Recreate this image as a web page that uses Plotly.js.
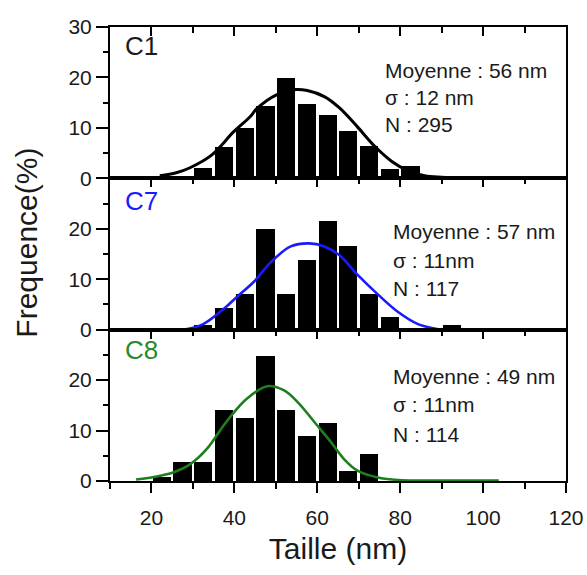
<!DOCTYPE html>
<html>
<head>
<meta charset="utf-8">
<script src="https://cdn.plot.ly/plotly-3.0.1.min.js"></script>
<style>html,body{margin:0;padding:0;background:#fff;}#chart{width:587px;height:575px;}</style>
</head>
<body>
<div id="chart"></div>
<script>
// ---- data ----
const c1BinCenters = [32.5, 37.5, 42.5, 47.5, 52.5, 57.5, 62.5, 67.5, 72.5, 77.5, 82.5];
const c1Freq       = [2.0, 6.2, 9.9, 14.3, 19.8, 14.8, 12.6, 9.3, 6.5, 1.8, 2.4];
const c1FitX = [22, 26, 29.3, 34.5, 39.8, 43.8, 45.4, 50.3, 54.8, 57.6, 61.7, 65.3, 69.8, 73.8, 77.9, 81.9, 85.9, 90, 96, 104];
const c1FitY = [0.5, 1.1, 2.1, 4.6, 9.2, 12.2, 13.8, 16.6, 17.6, 17.4, 16.2, 14.0, 10.1, 6.4, 3.4, 1.5, 0.5, 0.2, 0.05, 0];

const c7BinCenters = [32.5, 37.5, 42.5, 47.5, 52.5, 57.5, 62.5, 67.5, 72.5, 77.5, 92.5];
const c7Freq       = [0.9, 4.3, 7.0, 19.9, 7.0, 13.8, 21.6, 16.5, 7.0, 2.5, 0.9];
const c7FitX = [27.7, 32.5, 37.4, 40.6, 44.7, 48.7, 53.6, 58, 61.7, 65.3, 69.8, 74.6, 79.5, 84.3, 89.2];
const c7FitY = [0, 1.1, 4.1, 6.5, 9.5, 13.3, 16.5, 17.1, 16.5, 14.8, 10.8, 7.0, 3.5, 1.1, 0.1];

const c8BinCenters = [22.5, 27.5, 32.5, 37.5, 42.5, 47.5, 52.5, 57.5, 62.5, 67.5, 72.5];
const c8Freq       = [0.8, 3.7, 3.7, 14.1, 12.5, 24.7, 14.1, 8.9, 11.5, 1.9, 5.3];
const c8FitX = [16.3, 21.2, 25.2, 29.3, 33.3, 37.4, 39.8, 43, 47.9, 51.9, 55.2, 60, 63.3, 66.5, 69.8, 74.6, 79.5, 90, 103.8];
const c8FitY = [0.3, 0.9, 1.7, 3.3, 6.3, 11, 13.5, 16.3, 18.8, 18, 15.7, 11, 7.7, 4.3, 2.0, 0.7, 0.2, 0.1, 0.1];

const panelNames = ['C1', 'C7', 'C8'];
const statLines = [
  ['Moyenne : 56 nm', 'σ : 12 nm', 'N : 295'],
  ['Moyenne : 57 nm', 'σ : 11nm', 'N : 117'],
  ['Moyenne : 49 nm', 'σ : 11nm', 'N : 114']
];
const xMajorTicks = [20, 40, 60, 80, 100, 120];
const xMinorTicks = [10, 30, 50, 70, 90, 110];
const xTitle = 'Taille (nm)';
const yTitle = 'Frequence(%)';

// ---- styling ----
const FONT = 'Liberation Sans, Arial, sans-serif';
const TXT = '#1a1a1a';
const curveColors = ['#000000', '#1a1aff', '#1e7e1e'];
const labelColors = ['#1a1a1a', '#1a1aff', '#2a8a2a'];

function bars(x, y, xa, ya) {
  return {type: 'bar', x: x, y: y, width: 4.4, xaxis: xa, yaxis: ya,
          marker: {color: '#000', line: {width: 0}}, showlegend: false, hoverinfo: 'skip'};
}
function fit(x, y, xa, ya, color, w) {
  return {type: 'scatter', mode: 'lines', x: x, y: y, xaxis: xa, yaxis: ya,
          line: {color: color, width: w, shape: 'spline', smoothing: 1},
          showlegend: false, hoverinfo: 'skip', cliponaxis: true};
}

const data = [
  bars(c1BinCenters, c1Freq, 'x', 'y'),
  fit(c1FitX, c1FitY, 'x', 'y', curveColors[0], 3),
  bars(c7BinCenters, c7Freq, 'x2', 'y2'),
  fit(c7FitX, c7FitY, 'x2', 'y2', curveColors[1], 2.6),
  bars(c8BinCenters, c8Freq, 'x3', 'y3'),
  fit(c8FitX, c8FitY, 'x4', 'y3', curveColors[2], 2.6)
];

function topX(anchor) {
  return {range: [10, 120], anchor: anchor, side: 'top', showline: true, linewidth: 2, linecolor: '#000',
          mirror: true, ticks: 'inside', ticklen: 9, tickwidth: 2, tickcolor: '#000',
          tickmode: 'array', tickvals: xMajorTicks, showticklabels: false, showgrid: false, zeroline: false,
          minor: {tickmode: 'array', tickvals: xMinorTicks, ticks: 'inside', ticklen: 6, tickwidth: 2, tickcolor: '#000', showgrid: false}};
}
function yAx(domain, vals) {
  return {domain: domain, range: [0, 30], showline: true, linewidth: 2, linecolor: '#000', mirror: true,
          ticks: 'outside', ticklen: 12, tickwidth: 2, tickcolor: '#000', tickmode: 'array', tickvals: vals,
          showgrid: false, zeroline: false, tickfont: {family: FONT, size: 21, color: TXT},
          minor: {tickmode: 'array', tickvals: [5, 15, 25], ticks: 'outside', ticklen: 5, tickwidth: 2, tickcolor: '#000', showgrid: false},
          fixedrange: true};
}

const annotations = [];
const panelY = ['y', 'y2', 'y3'];
const labelYs = [26.2, 25.5, 26.0];
const statYs = [[21.4, 16.0, 10.7], [19.4, 13.7, 8.1], [20.8, 15.1, 9.3]];
const statX = [0.599, 0.617, 0.617];
for (let i = 0; i < 3; i++) {
  annotations.push({xref: 'paper', yref: panelY[i], x: 0.0296, y: labelYs[i], xanchor: 'left', yanchor: 'middle',
    text: panelNames[i], showarrow: false, font: {family: FONT, size: 26, color: labelColors[i]}});
  for (let j = 0; j < 3; j++) {
    annotations.push({xref: 'paper', yref: panelY[i], x: statX[i], y: statYs[i][j], xanchor: 'left', yanchor: 'middle',
      text: statLines[i][j], showarrow: false, font: {family: FONT, size: 21, color: TXT}});
  }
}
annotations.push({xref: 'paper', yref: 'paper', x: -0.182, y: 0.525, xanchor: 'center', yanchor: 'middle',
  textangle: -90, text: yTitle, showarrow: false, font: {family: FONT, size: 30, color: TXT}});

const layout = {
  width: 587, height: 575,
  margin: {l: 110, r: 21, t: 27, b: 94},
  paper_bgcolor: '#fff', plot_bgcolor: '#fff',
  bargap: 0, showlegend: false,
  font: {family: FONT, color: TXT},
  xaxis: topX('y'),
  xaxis2: Object.assign(topX('y2'), {matches: 'x'}),
  xaxis3: Object.assign(topX('y3'), {matches: 'x'}),
  xaxis4: {range: [10, 120], anchor: 'y3', overlaying: 'x3', side: 'bottom', showline: true, linewidth: 2, linecolor: '#000',
           ticks: 'outside', ticklen: 10, tickwidth: 2, tickcolor: '#000', tickmode: 'array', tickvals: xMajorTicks,
           ticklabelstandoff: 7,
           showgrid: false, zeroline: false, tickfont: {family: FONT, size: 21, color: TXT},
           minor: {tickmode: 'array', tickvals: xMinorTicks, ticks: 'outside', ticklen: 6, tickwidth: 2, tickcolor: '#000', showgrid: false},
           title: {text: xTitle, font: {family: FONT, size: 30, color: TXT}, standoff: 10}},
  yaxis: yAx([2/3, 1], [0, 10, 20, 30]),
  yaxis2: yAx([1/3, 2/3], [0, 10, 20]),
  yaxis3: yAx([0, 1/3], [0, 10, 20]),
  annotations: annotations
};

Plotly.newPlot('chart', data, layout, {staticPlot: true, displayModeBar: false});
</script>
</body>
</html>
